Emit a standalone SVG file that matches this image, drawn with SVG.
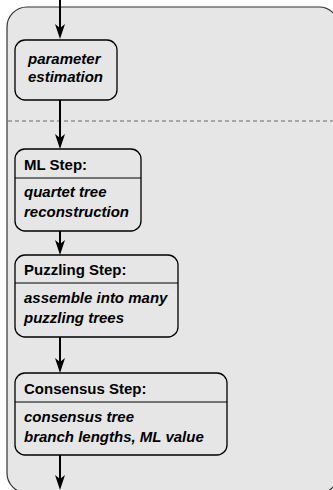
<svg xmlns="http://www.w3.org/2000/svg" width="333" height="490" viewBox="0 0 333 490">
<style>
.node{fill:#e6e6e6;stroke:#000;stroke-width:1.3}
.div{stroke:#000;stroke-width:1}
.hd{font-family:"Liberation Sans",Arial,sans-serif;font-size:15px;font-weight:bold;fill:#000}
.it{font-family:"Liberation Sans",Arial,sans-serif;font-size:15px;font-weight:bold;font-style:italic;fill:#000}
.ln{stroke:#000;stroke-width:2;fill:none}
.ah{fill:#000}
</style>
<g id="container">
<rect x="7" y="7" width="332" height="486" rx="20" ry="20" fill="#e6e6e6" stroke="#333" stroke-width="1.2"/>
<line x1="8" y1="121" x2="333" y2="121" stroke="#666" stroke-width="1" stroke-dasharray="4,3"/>
</g>
<g id="connectors">
<line class="ln" x1="60" y1="0" x2="60" y2="36"/>
<path class="ah" d="M55,24 L60,39 L65,24 L60,28 Z"/>
<line class="ln" x1="60" y1="100" x2="60" y2="146"/>
<path class="ah" d="M55,134 L60,149 L65,134 L60,138 Z"/>
<line class="ln" x1="60" y1="231" x2="60" y2="252"/>
<path class="ah" d="M55,240 L60,255 L65,240 L60,244 Z"/>
<line class="ln" x1="60" y1="337" x2="60" y2="370"/>
<path class="ah" d="M55,358 L60,373 L65,358 L60,362 Z"/>
<line class="ln" x1="60" y1="455" x2="60" y2="487"/>
<path class="ah" d="M55,475 L60,490 L65,475 L60,479 Z"/>
</g>
<g id="param">
<rect class="node" x="15" y="40" width="102" height="60" rx="10"/>
<text class="it" x="28" y="64">parameter</text>
<text class="it" x="28" y="82">estimation</text>
</g>
<g id="ml">
<rect class="node" x="15" y="149" width="126" height="82" rx="10"/>
<line class="div" x1="15" y1="178" x2="141" y2="178"/>
<text class="hd" x="24" y="170">ML Step:</text>
<text class="it" x="24" y="197">quartet tree</text>
<text class="it" x="24" y="217">reconstruction</text>
</g>
<g id="puzzling">
<rect class="node" x="15" y="255" width="163" height="82" rx="10"/>
<line class="div" x1="15" y1="283" x2="178" y2="283"/>
<text class="hd" x="24" y="275">Puzzling Step:</text>
<text class="it" x="24" y="303">assemble into many</text>
<text class="it" x="24" y="323">puzzling trees</text>
</g>
<g id="consensus">
<rect class="node" x="15" y="373" width="212" height="82" rx="10"/>
<line class="div" x1="15" y1="402" x2="227" y2="402"/>
<text class="hd" x="24" y="394">Consensus Step:</text>
<text class="it" x="24" y="422">consensus tree</text>
<text class="it" x="24" y="442">branch lengths, ML value</text>
</g>
</svg>
